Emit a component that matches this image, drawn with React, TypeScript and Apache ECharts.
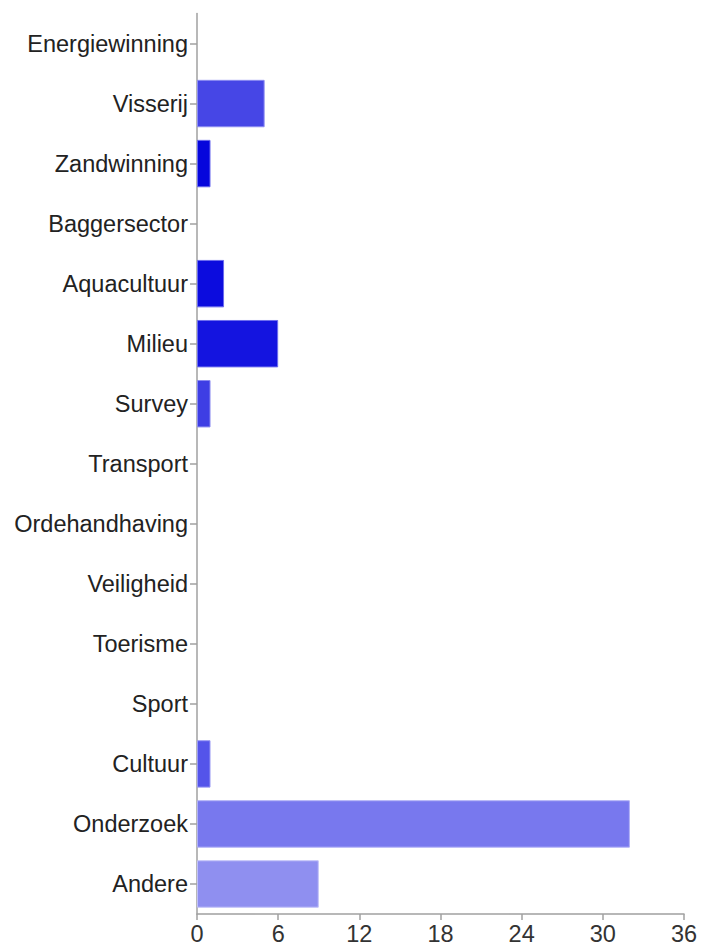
import React, { useEffect, useRef } from "react";
import * as echarts from "echarts";

const categories = [
  "Energiewinning", "Visserij", "Zandwinning", "Baggersector", "Aquacultuur",
  "Milieu", "Survey", "Transport", "Ordehandhaving", "Veiligheid",
  "Toerisme", "Sport", "Cultuur", "Onderzoek", "Andere",
];
const values = [0, 5, 1, 0, 2, 6, 1, 0, 0, 0, 0, 0, 1, 32, 9];
const barColors = [
  "#3a3ae4", "#4646e6", "#0606dc", "#1010de", "#0c0cde",
  "#1414e0", "#3e3ee4", "#4040e4", "#4040e4", "#4040e4",
  "#4040e4", "#4040e4", "#5454ea", "#7878ee", "#8f8ff0",
];
const borderColors = [
  "#8a8af0", "#8c8cf2", "#6a6aee", "#6a6aee", "#6a6aee",
  "#6e6eee", "#8a8af0", "#8a8af0", "#8a8af0", "#8a8af0",
  "#8a8af0", "#8a8af0", "#9a9af4", "#b0b0f6", "#c0c0f8",
];
const xMax = 36;
const xInterval = 6;

export default function App() {
  const ref = useRef<HTMLDivElement>(null);
  useEffect(() => {
    if (!ref.current) return;
    const chart = echarts.init(ref.current, undefined, { renderer: "svg" });
    const font = "'Liberation Sans', Arial, Helvetica, sans-serif";
    chart.setOption({
      animation: false,
      grid: { left: 197, right: 18, top: 13.5, bottom: 35, containLabel: false },
      xAxis: {
        type: "value",
        min: 0,
        max: xMax,
        interval: xInterval,
        splitLine: { show: false },
        axisLine: { show: true, lineStyle: { color: "#a0a0a0", width: 1.5 } },
        axisTick: { show: true, length: 6, lineStyle: { color: "#a0a0a0", width: 1.5 } },
        axisLabel: { color: "#333", fontSize: 23.5, fontFamily: font, margin: 8 },
      },
      yAxis: {
        type: "category",
        data: categories,
        inverse: true,
        axisLine: { show: true, lineStyle: { color: "#a0a0a0", width: 1.5 } },
        axisTick: { show: true, alignWithLabel: true, length: 7, lineStyle: { color: "#a0a0a0", width: 1.5 } },
        axisLabel: { color: "#222", fontSize: 23.5, fontFamily: font, margin: 9 },
      },
      series: [
        {
          type: "bar",
          barCategoryGap: "21%",
          data: values.map((v, i) => ({
            value: v,
            itemStyle: {
              color: barColors[i],
              borderColor: borderColors[i],
              borderWidth: v > 0 ? 1 : 0,
              opacity: v > 0 ? 1 : 0,
            },
          })),
        },
      ],
    });
    return () => chart.dispose();
  }, []);
  return (
    <div
      ref={ref}
      style={{ position: "fixed", left: 0, top: 0, width: 702, height: 949, background: "#fff" }}
    />
  );
}
